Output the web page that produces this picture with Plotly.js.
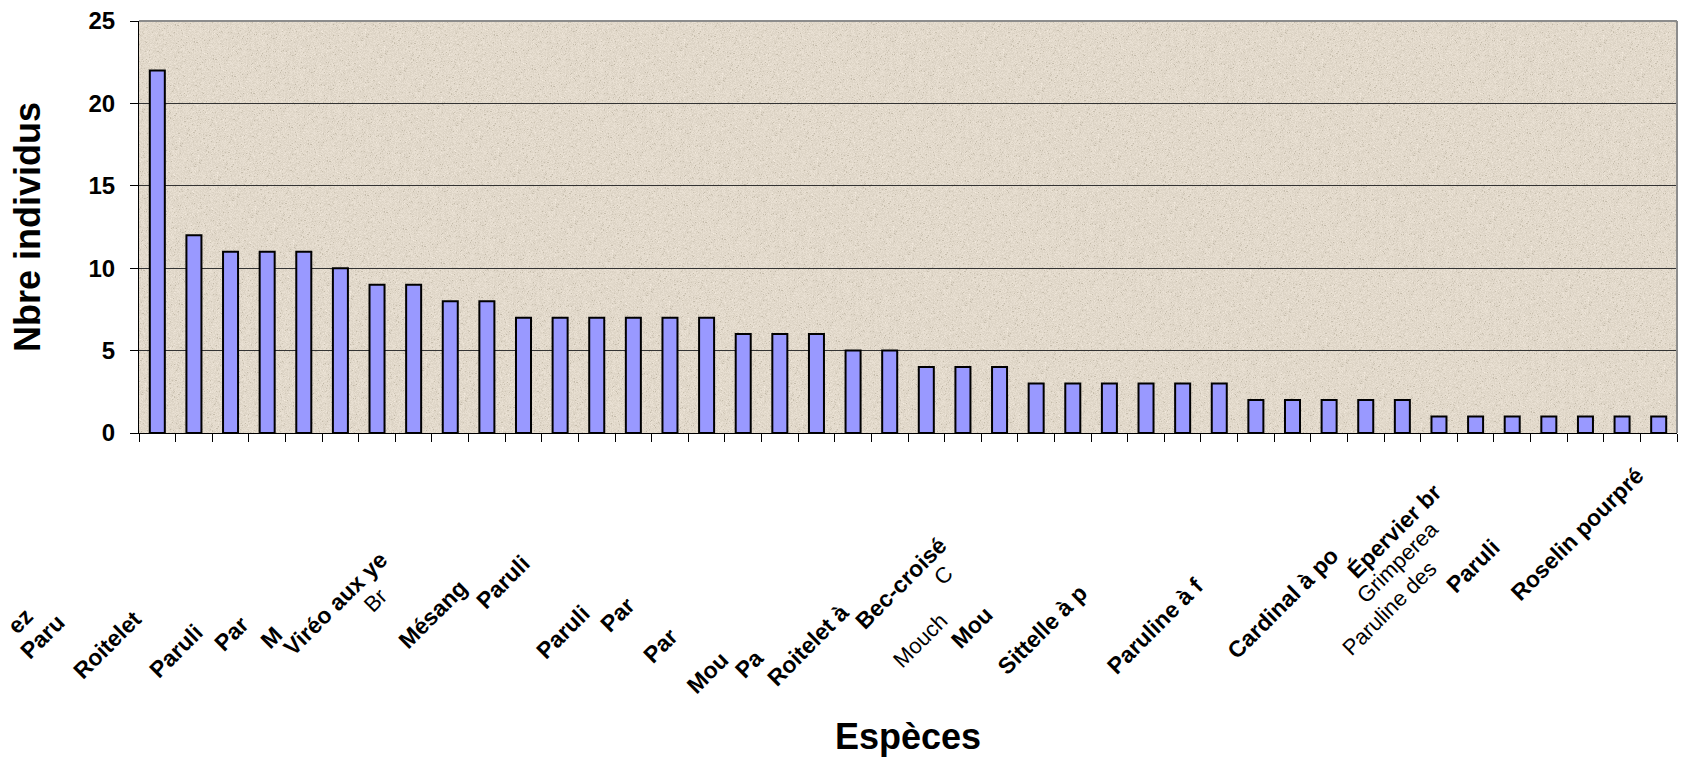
<!DOCTYPE html>
<html>
<head>
<meta charset="utf-8">
<script src="https://cdn.plot.ly/plotly-3.0.1.min.js"></script>
<style>
  html, body { margin: 0; padding: 0; background: #ffffff; }
  #chart { width: 1689px; height: 761px; }
</style>
</head>
<body>
<div id="chart"></div>
<script>
// Rang de chaque espèce (ordre décroissant d'abondance)
const rang = [1, 2, 3, 4, 5, 6, 7, 8, 9, 10, 11, 12, 13, 14, 15, 16, 17, 18, 19, 20, 21,
              22, 23, 24, 25, 26, 27, 28, 29, 30, 31, 32, 33, 34, 35, 36, 37, 38, 39, 40, 41, 42];

// Nombre d'individus observés par espèce
const individus = [22, 12, 11, 11, 11, 10, 9, 9, 8, 8, 7, 7, 7, 7, 7, 7, 6, 6, 6, 5, 5,
                   4, 4, 4, 3, 3, 3, 3, 3, 3, 2, 2, 2, 2, 2, 1, 1, 1, 1, 1, 1, 1];

// Étiquettes d'espèces telles qu'affichées sous l'axe (tronquées)
const etiquettes = ["ez", "Paru", "Roitelet", "Paruli", "Par", "M", "Viréo aux ye", "Br",
                    "Mésang", "Paruli", "Paruli", "Par", "Par", "Mou", "Pa", "Roitelet à",
                    "Bec-croisé", "C", "Mouch", "Mou", "Sittelle à p", "Paruline à f",
                    "Cardinal à po", "Épervier br", "Grimperea", "Paruline des", "Paruli",
                    "Roselin pourpré"];

const yTicks = [0, 5, 10, 15, 20, 25];

// ---- mise en page ----
const W = 1689, H = 761;
const M = { l: 139, r: 12, t: 21, b: 328 };
const plotW = W - M.l - M.r, plotH = H - M.t - M.b;
const toPaperX = px => (px - M.l) / plotW;
const toPaperY = py => (H - M.b - py) / plotH;

// Centre (px) et graisse de chaque étiquette, dans l'ordre du tableau ci-dessus
const placement = [
  [20, 621, 1], [42, 637, 1], [107, 645, 1], [176, 651, 1], [231, 634, 1], [271, 638, 1],
  [335, 604, 1], [375, 600, 0], [433, 614, 1], [503, 582, 1], [563, 632, 1], [617, 615, 1],
  [660, 646, 1], [707, 673, 1], [749, 664, 1], [808, 645, 1], [901, 583, 1], [943, 575, 0],
  [920, 640, 0], [972, 627, 1], [1042, 630, 1], [1155, 626, 1], [1283, 603, 1],
  [1393, 531, 1], [1397, 562, 0], [1389, 608, 0], [1473, 566, 1], [1577, 534, 1]
];

const police = "Arial, 'Liberation Sans', sans-serif";

const annotations = etiquettes.map((txt, i) => {
  const p = placement[i];
  return {
    text: p[2] ? '<b>' + txt + '</b>' : txt,
    xref: 'paper', yref: 'paper',
    x: toPaperX(p[0]), y: toPaperY(p[1]),
    xanchor: 'center', yanchor: 'middle',
    textangle: -45,
    showarrow: false,
    font: { family: police, size: p[2] ? 23 : 22, color: '#000000' }
  };
});

// Fond texturé façon papier pour la zone de tracé
function textureFond(w, h) {
  const c = document.createElement('canvas');
  c.width = w; c.height = h;
  const ctx = c.getContext('2d');
  const img = ctx.createImageData(w, h);
  let s = 987654321;
  const next = () => { s = (s * 1103515245 + 12345) & 0x7fffffff; return s / 0x7fffffff; };
  for (let i = 0; i < w * h; i++) {
    const a = next(), b = next();
    let d = (a - 0.5) * 16;
    if (b < 0.03) d -= 24;
    else if (b > 0.985) d += 10;
    img.data[i * 4] = Math.max(0, Math.min(255, 226 + d));
    img.data[i * 4 + 1] = Math.max(0, Math.min(255, 217 + d));
    img.data[i * 4 + 2] = Math.max(0, Math.min(255, 203 + d * 1.1));
    img.data[i * 4 + 3] = 255;
  }
  ctx.putImageData(img, 0, 0);
  return c.toDataURL('image/png');
}

const trace = {
  type: 'bar',
  x: rang.map(String),
  y: individus,
  marker: { color: '#9999FF', line: { color: '#000000', width: 2 } },
  hoverinfo: 'x+y'
};

const layout = {
  width: W, height: H,
  margin: M,
  paper_bgcolor: '#ffffff',
  plot_bgcolor: '#E2D9CB',
  bargap: 0.59,
  showlegend: false,
  font: { family: police, color: '#000000' },
  xaxis: {
    type: 'category',
    tickson: 'boundaries',
    showticklabels: false,
    ticks: 'outside', ticklen: 8, tickwidth: 1, tickcolor: '#000000',
    showline: true, linecolor: '#000000', linewidth: 1,
    showgrid: false, zeroline: false,
    automargin: false,
    title: { text: '<b>Espèces</b>', font: { family: police, size: 36, color: '#000000' }, standoff: 290 }
  },
  yaxis: {
    range: [0, 25],
    tickvals: yTicks,
    ticktext: yTicks.map(v => '<b>' + v + '</b>'),
    ticks: 'outside', ticklen: 8, tickwidth: 1, tickcolor: '#000000',
    ticklabelstandoff: 10,
    tickfont: { family: police, size: 24, color: '#000000' },
    showline: true, linecolor: '#000000', linewidth: 1,
    showgrid: true, gridcolor: '#333333', gridwidth: 1,
    zeroline: false,
    automargin: false,
    title: { text: '<b>Nbre individus</b>', font: { family: police, size: 36, color: '#000000' }, standoff: 36 }
  },
  shapes: [
    { type: 'line', xref: 'paper', yref: 'paper', x0: 0, x1: 1, y0: 1, y1: 1,
      line: { color: '#8c8c8c', width: 2 } },
    { type: 'line', xref: 'paper', yref: 'paper', x0: 1, x1: 1, y0: 0, y1: 1,
      line: { color: '#8c8c8c', width: 2 } }
  ],
  images: [
    { source: textureFond(plotW, plotH), xref: 'paper', yref: 'paper',
      x: 0, y: 1, sizex: 1, sizey: 1, sizing: 'stretch', layer: 'below',
      xanchor: 'left', yanchor: 'top' }
  ],
  annotations: annotations
};

Plotly.newPlot('chart', [trace], layout, { displayModeBar: false, staticPlot: true });
</script>
</body>
</html>
